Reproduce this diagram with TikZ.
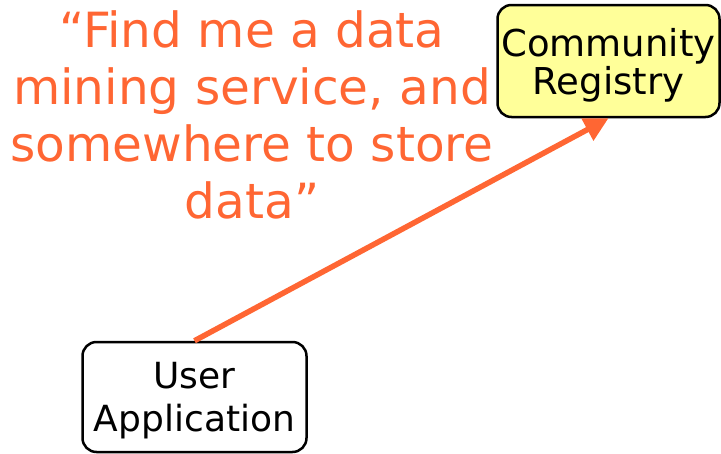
\documentclass[tikz,border=0pt]{standalone}
\usepackage{fontspec}
\setmainfont{DejaVu Sans}
\usetikzlibrary{arrows.meta}
\definecolor{quoteorange}{HTML}{FF6633}
\definecolor{regyellow}{HTML}{FFFF99}
\tikzset{
  entity/.style={draw=black, line width=2.5pt, rounded corners=14pt, align=center, inner sep=0pt, text depth=0pt},
  quotetext/.style={text=quoteorange, align=center, font=\fontsize{48.5}{56.7}\selectfont},
  flow/.style={draw=quoteorange, line width=5.5pt, -{Triangle[length=24pt,width=24pt]}}
}
\begin{document}
\begin{tikzpicture}[x=1pt,y=-1pt]
\useasboundingbox (0,0) rectangle (721,453);
\node[entity, fill=regyellow, minimum width=222pt, minimum height=112pt,
      font=\fontsize{37}{38}\selectfont] (reg) at (608.5,61) {Community\\Registry};
\node[entity, fill=white, minimum width=224pt, minimum height=110pt,
      font=\fontsize{36}{43}\selectfont] (user) at (194.5,397) {User\\Application};
\node[quotetext, anchor=base] (q) at (252,218) {“Find me a data\\mining service, and\\somewhere to store\\data”};
\draw[flow] (user.north) -- (reg.south);
\end{tikzpicture}
\end{document}
